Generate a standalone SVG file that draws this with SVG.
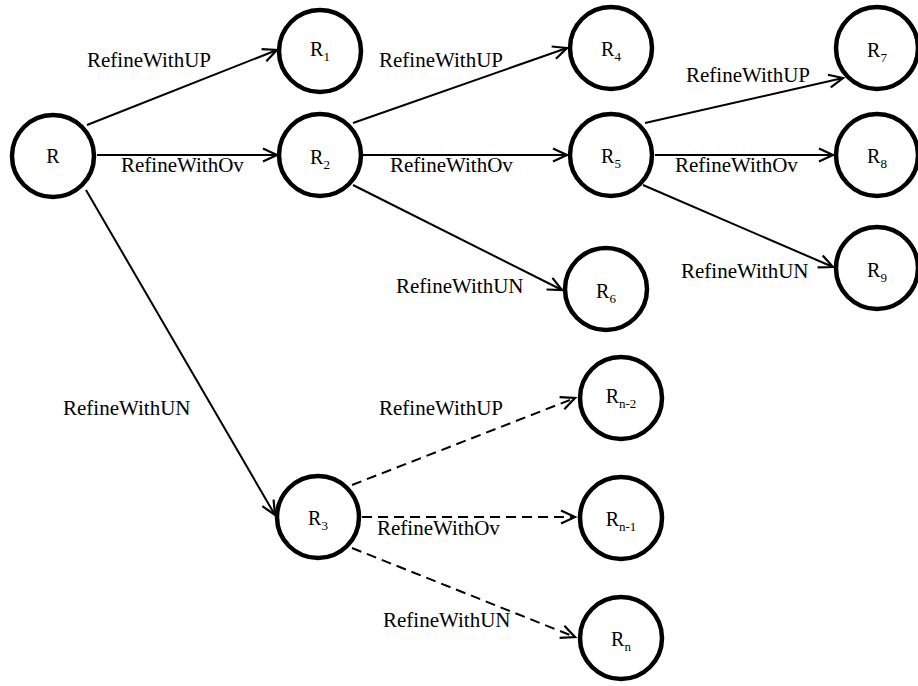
<svg xmlns="http://www.w3.org/2000/svg" width="918" height="686" viewBox="0 0 918 686">
<style>
.node circle{fill:#fff;stroke:#000;stroke-width:4.5}
.node text{font-family:"Liberation Serif","Times New Roman",serif;font-size:20px;text-anchor:middle;fill:#000}
.sub{font-size:13px}
.edge{stroke:#000;stroke-width:2;fill:none;marker-end:url(#arr)}
.dash{stroke-dasharray:10,6}
.lbl{font-family:"Liberation Serif","Times New Roman",serif;font-size:21px;fill:#000}
</style>
<defs>
<marker id="arr" markerUnits="userSpaceOnUse" markerWidth="18" markerHeight="16" viewBox="0 0 18 16" refX="17" refY="8" orient="auto" overflow="visible">
<path d="M3,1.5 L17,8 L3,14.5" fill="none" stroke="#000" stroke-width="2.2"/>
</marker>
</defs>
<rect width="918" height="686" fill="#fff"/>
<g id="connectors">
<line class="edge" x1="87" y1="125" x2="277" y2="50"/>
<line class="edge" x1="97" y1="155" x2="277" y2="155"/>
<line class="edge" x1="86" y1="190" x2="275" y2="515"/>
<line class="edge" x1="353" y1="123" x2="567" y2="48"/>
<line class="edge" x1="363" y1="155" x2="567" y2="155"/>
<line class="edge" x1="353" y1="185" x2="562" y2="290"/>
<line class="edge" x1="645" y1="123" x2="843" y2="78"/>
<line class="edge" x1="655" y1="155" x2="833" y2="155"/>
<line class="edge" x1="643" y1="185" x2="833" y2="267"/>
<line class="edge dash" x1="352" y1="485" x2="575" y2="398"/>
<line class="edge dash" x1="362" y1="517" x2="575" y2="517"/>
<line class="edge dash" x1="352" y1="548" x2="575" y2="637"/>
<text class="lbl" x="87" y="67">RefineWithUP</text>
<text class="lbl" x="121" y="172">RefineWithOv</text>
<text class="lbl" x="63" y="415">RefineWithUN</text>
<text class="lbl" x="379" y="67">RefineWithUP</text>
<text class="lbl" x="390" y="172">RefineWithOv</text>
<text class="lbl" x="396" y="293">RefineWithUN</text>
<text class="lbl" x="686" y="82">RefineWithUP</text>
<text class="lbl" x="675" y="172">RefineWithOv</text>
<text class="lbl" x="681" y="278">RefineWithUN</text>
<text class="lbl" x="379" y="415">RefineWithUP</text>
<text class="lbl" x="377" y="535">RefineWithOv</text>
<text class="lbl" x="383" y="627">RefineWithUN</text>
</g>
<g id="R" class="node"><circle cx="53" cy="156" r="41"/><text x="53" y="163">R</text></g>
<g id="R1" class="node"><circle cx="320" cy="51" r="41"/><text x="320" y="56">R<tspan class="sub" dy="5">1</tspan></text></g>
<g id="R2" class="node"><circle cx="320" cy="155" r="41"/><text x="320" y="164">R<tspan class="sub" dy="5">2</tspan></text></g>
<g id="R3" class="node"><circle cx="318" cy="517" r="41"/><text x="318" y="525">R<tspan class="sub" dy="5">3</tspan></text></g>
<g id="R4" class="node"><circle cx="611" cy="48" r="41"/><text x="611" y="56">R<tspan class="sub" dy="5">4</tspan></text></g>
<g id="R5" class="node"><circle cx="611" cy="155" r="41"/><text x="611" y="163">R<tspan class="sub" dy="5">5</tspan></text></g>
<g id="R6" class="node"><circle cx="606" cy="289" r="41"/><text x="606" y="298">R<tspan class="sub" dy="5">6</tspan></text></g>
<g id="R7" class="node"><circle cx="877" cy="48" r="41"/><text x="877" y="57">R<tspan class="sub" dy="5">7</tspan></text></g>
<g id="R8" class="node"><circle cx="877" cy="155" r="41"/><text x="877" y="163">R<tspan class="sub" dy="5">8</tspan></text></g>
<g id="R9" class="node"><circle cx="877" cy="268" r="41"/><text x="877" y="277">R<tspan class="sub" dy="5">9</tspan></text></g>
<g id="Rn-2" class="node"><circle cx="621" cy="398" r="41"/><text x="621" y="403">R<tspan class="sub" dy="5">n-2</tspan></text></g>
<g id="Rn-1" class="node"><circle cx="621" cy="518" r="41"/><text x="621" y="526">R<tspan class="sub" dy="5">n-1</tspan></text></g>
<g id="Rn" class="node"><circle cx="621" cy="638" r="41"/><text x="621" y="646">R<tspan class="sub" dy="5">n</tspan></text></g>
</svg>
